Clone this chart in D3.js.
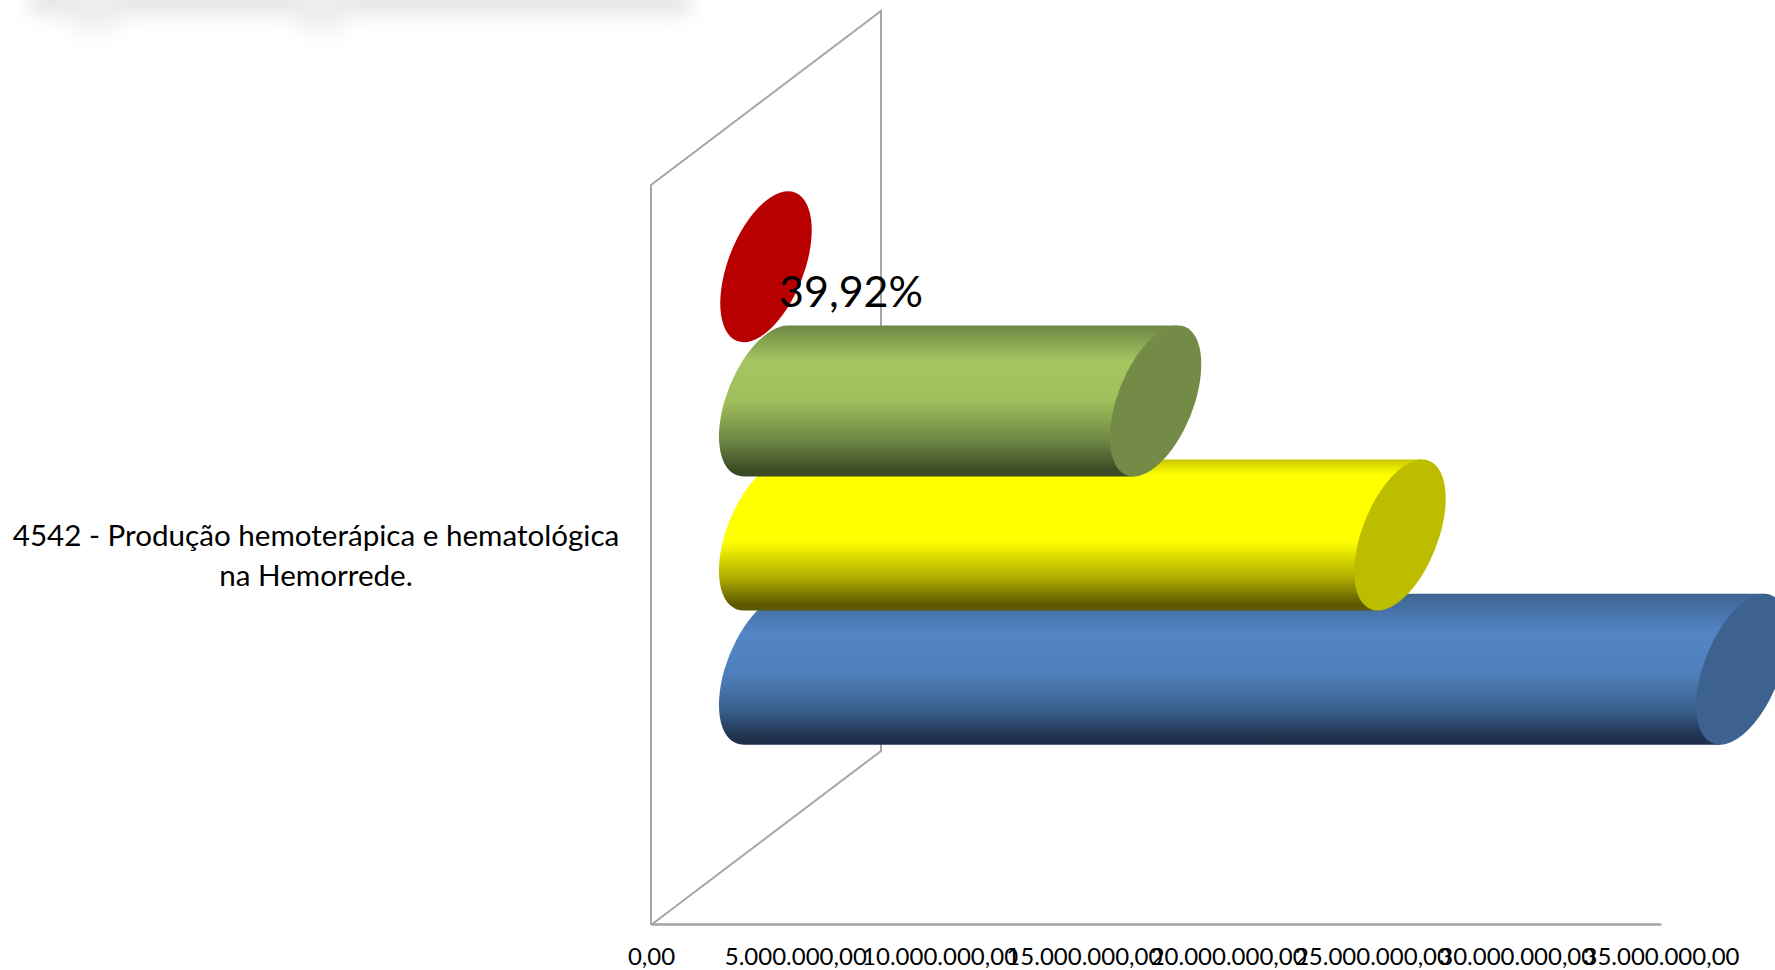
<!DOCTYPE html>
<html>
<head>
<meta charset="utf-8">
<script src="https://cdn.jsdelivr.net/npm/d3@7"></script>
<style>
  html, body { margin: 0; padding: 0; background: #fff; overflow: hidden; }
  text { font-family: Lato, "Open Sans", sans-serif; fill: #000; }
</style>
</head>
<body>
<div id="chart"></div>
<script>
// values
const categoryLines = ["4542 - Produção hemoterápica e hematológica", "na Hemorrede."];
const seriesKeys = ["vermelho", "verde", "amarelo", "azul"];
const seriesValues = [0, 13500000, 21970000, 33820000];
const drawOrder = ["vermelho", "azul", "amarelo", "verde"];
const axisTicks = [0, 5000000, 10000000, 15000000, 20000000, 25000000, 30000000, 35000000];
const dataLabel = { key: "verde", text: "39,92%" };

const w = 1775;
const h = 970;

// 3d box: left wall corners and how far the back wall is shifted
const plotLeft = 651;
const plotRight = 1661;
const plotTop = 185;
const plotBottom = 925;
const depthX = 230;
const depthY = 174;

// cylinder shape
const radiusY = 75.5;
const radiusX = 40;
const bodyRadiusX = 41.5;
const shear = -22 / 75;

const colors = {
  vermelho: { cap: "#b90000", stops: [] },
  verde: {
    cap: "#738b47",
    stops: [["0%", "#6f8745"], ["24%", "#a5c660"], ["50%", "#a0bf5c"], ["76%", "#6f8845"], ["96%", "#3b4a24"]]
  },
  amarelo: {
    cap: "#bdbd00",
    stops: [["0%", "#c8c800"], ["10%", "#ffff00"], ["54%", "#ffff00"], ["78%", "#b0ad00"], ["96%", "#5c5800"]]
  },
  azul: {
    cap: "#3d6290",
    stops: [["0%", "#3e6491"], ["26%", "#5385c6"], ["52%", "#4f80bc"], ["76%", "#3c628f"], ["96%", "#1d2f4a"]]
  }
};

const x = d3.scaleLinear().domain([0, 35000000]).range([plotLeft, plotRight]);
const y = d3.scalePoint()
  .domain(seriesKeys)
  .range([plotTop - depthY / 2, plotBottom - depthY / 2])
  .padding(1.257);

const valueOf = function (key) {
  return seriesValues[seriesKeys.indexOf(key)];
};

const svg = d3.select("#chart").append("svg")
  .attr("width", w)
  .attr("height", h)
  .style("display", "block");

const defs = svg.append("defs");

defs.append("filter").attr("id", "smear")
  .attr("x", "-20%").attr("y", "-200%").attr("width", "140%").attr("height", "500%")
  .append("feGaussianBlur").attr("stdDeviation", 10);

seriesKeys.forEach(function (key) {
  const grad = defs.append("linearGradient")
    .attr("id", "grad-" + key)
    .attr("x1", 0).attr("y1", 0).attr("x2", 0).attr("y2", 1);
  colors[key].stops.forEach(function (s) {
    grad.append("stop").attr("offset", s[0]).attr("stop-color", s[1]);
  });
});

// cut off, blurred title at the top edge
const smear = svg.append("g").attr("filter", "url(#smear)").attr("fill", "#e4e4e4");
smear.append("rect").attr("x", 30).attr("y", -12).attr("width", 660).attr("height", 26);
smear.append("rect").attr("x", 70).attr("y", -5).attr("width", 46).attr("height", 36).attr("fill", "#eeeeee");
smear.append("rect").attr("x", 298).attr("y", -5).attr("width", 46).attr("height", 36).attr("fill", "#eeeeee");

// back wall
svg.append("path")
  .attr("fill", "none")
  .attr("stroke", "#a6a6a6")
  .attr("stroke-width", 2)
  .attr("d", "M" + plotLeft + "," + plotBottom +
    "V" + plotTop +
    "L" + (plotLeft + depthX) + "," + (plotTop - depthY) +
    "V" + (plotBottom - depthY) +
    "L" + plotLeft + "," + plotBottom);

// axis
const brLocale = d3.formatLocale({ decimal: ",", thousands: ".", grouping: [3], currency: ["", ""] });
const axis = d3.axisBottom(x)
  .tickValues(axisTicks)
  .tickFormat(brLocale.format(",.2f"))
  .tickSize(0)
  .tickSizeOuter(0)
  .tickPadding(24);

const axisG = svg.append("g")
  .attr("transform", "translate(0," + (plotBottom - 1) + ")")
  .call(axis);
axisG.select(".domain").attr("stroke", "#a3a3a3").attr("stroke-width", 2.5);
axisG.selectAll("text").style("font-family", "Lato").style("font-size", "24px").attr("fill", "#000");

// cylinders, drawn in a sheared space so the ends lean like in the picture
const bars = svg.append("g").selectAll("g")
  .data(drawOrder)
  .enter().append("g")
  .attr("transform", function (d) {
    return "matrix(1,0," + shear + ",1," + (x(0) + depthX / 2) + "," + y(d) + ")";
  });

bars.filter(function (d) { return valueOf(d) > 0; })
  .append("path")
  .attr("fill", function (d) { return "url(#grad-" + d + ")"; })
  .attr("d", function (d) {
    const len = x(valueOf(d)) - x(0);
    return "M0," + (-radiusY) + "H" + len + "V" + radiusY + "H0" +
      "A" + bodyRadiusX + "," + radiusY + " 0 0 1 0," + (-radiusY) + "Z";
  });

bars.append("ellipse")
  .attr("cx", function (d) { return x(valueOf(d)) - x(0); })
  .attr("cy", 0)
  .attr("rx", radiusX)
  .attr("ry", radiusY)
  .attr("fill", function (d) { return colors[d].cap; });

// data label
svg.append("text")
  .attr("x", 779)
  .attr("y", 307)
  .style("font-size", "43px")
  .text(dataLabel.text);

// category label
const catText = svg.append("text")
  .attr("text-anchor", "middle")
  .style("font-size", "29.6px");
catText.selectAll("tspan")
  .data(categoryLines)
  .enter().append("tspan")
  .attr("x", 316)
  .attr("y", function (d, i) { return 546 + i * 40; })
  .text(function (d) { return d; });
</script>
</body>
</html>
